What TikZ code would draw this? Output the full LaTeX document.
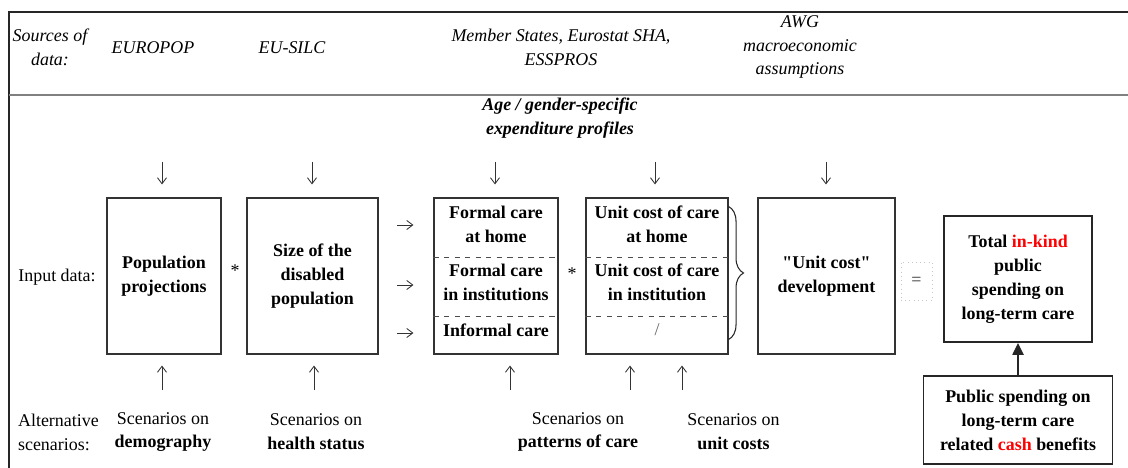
\documentclass[tikz,border=0pt]{standalone}
\usepackage{fontspec}
\setmainfont{Liberation Serif}
\usetikzlibrary{arrows.meta,decorations.pathreplacing}

\begin{document}
\begin{tikzpicture}[
        font=\fontsize{10.2pt}{13.6pt}\selectfont,
        txt/.style={align=center, inner sep=1pt},
        src/.style={txt, font=\fontsize{10.2pt}{13.6pt}\selectfont\itshape},
        inp/.style={txt, font=\fontsize{10.2pt}{13.6pt}\selectfont\bfseries},
        box/.style={draw=black!80, line width=0.6pt, minimum height=3.12cm, inner sep=0pt},
        outbox/.style={inp, draw=black!85, line width=1pt, inner sep=0pt},
        arr/.style={-{Straight Barb[length=1.2mm,width=1.8mm]}, black!80, line width=0.5pt}
    ]
    \useasboundingbox (0,0) rectangle (22.56,-9.36);
    \draw[black!85, line width=0.6pt] (0.18,-9.36) -- (0.18,-0.24) -- (22.56,-0.24);
    \draw[black!50, line width=1pt] (0.18,-1.9) -- (22.56,-1.9);

    % sources of data
    \node[src] (srclbl) at (1.0,-0.94) {Sources of\\data:};
    \node[src] (europop) at (3.06,-0.96) {EUROPOP};
    \node[src] (eusilc) at (5.84,-0.96) {EU-SILC};
    \node[src] (msstates) at (11.22,-0.94) {Member States, Eurostat SHA,\\ESSPROS};
    \node[src] (awg) at (16.0,-0.94) {AWG\\macroeconomic\\assumptions};
    \node[src, font=\fontsize{10.2pt}{13.6pt}\selectfont\bfseries\itshape] (profiles) at (11.2,-2.37)
        {Age / gender-specific\\expenditure profiles};

    % input data
    \node[txt] (inplbl) at (1.14,-5.54) {Input data:};
    \node[box, inp, minimum width=2.28cm] (pop) at (3.28,-5.52) {Population\\projections};
    \node[txt] (star1) at (4.7,-5.42) {*};
    \node[box, inp, minimum width=2.62cm] (size) at (6.25,-5.52) {Size of the\\disabled\\population};
    \node[box, minimum width=2.48cm] (care) at (9.92,-5.52) {};
    \node[txt] (star2) at (11.44,-5.48) {*};
    \node[box, minimum width=2.84cm] (ucost) at (13.14,-5.52) {};
    \node[box, inp, minimum width=2.74cm] (dev) at (16.53,-5.52)
        {\textquotedbl Unit cost\textquotedbl\\development};
    \node[draw=gray!45, dotted, minimum width=0.62cm, minimum height=0.76cm, inner sep=0pt] (eq)
        at (18.33,-5.62) {\textcolor{black!80}{=}};
    \node[outbox, minimum width=2.96cm, minimum height=2.52cm] (total) at (20.36,-5.58)
        {Total \textcolor{red}{in-kind}\\public\\spending on\\long-term care};
    \node[outbox, minimum width=3.78cm, minimum height=1.76cm] (cash) at (20.36,-8.4)
        {Public spending on\\long-term care\\related \textcolor{red}{cash} benefits};

    \foreach \y in {-5.14,-6.32}
        \draw[dashed, black!70] (care.west |- 0,\y) -- (care.east |- 0,\y)
            (ucost.west |- 0,\y) -- (ucost.east |- 0,\y);

    \node[inp] (care1) at (9.92,-4.48) {Formal care\\at home};
    \node[inp] (care2) at (9.92,-5.65) {Formal care\\in institutions};
    \node[inp] (care3) at (9.92,-6.6) {Informal care};
    \node[inp] (cost1) at (13.14,-4.48) {Unit cost of care\\at home};
    \node[inp] (cost2) at (13.14,-5.65) {Unit cost of care\\in institution};
    \node[txt, text=black!60] (cost3) at (13.14,-6.6) {/};

    \draw[decorate, decoration={brace, amplitude=0.3cm}, black!85, line width=0.6pt]
        ([yshift=-0.18cm]ucost.north east) -- ([yshift=0.3cm]ucost.south east);

    % arrows
    \foreach \x/\b [count=\i] in {3.24/pop, 6.24/size, 9.9/care, 13.1/ucost, 16.52/dev} {
        \coordinate (dn\i) at (\x,-3.24);
        \draw[arr, shorten >=0.26cm] (dn\i) -- (dn\i |- \b.north);
    }
    \foreach \x/\b [count=\i] in {3.24/pop, 6.28/size, 10.2/care, 12.6/ucost, 13.64/ucost} {
        \coordinate (up\i) at (\x,-7.8);
        \draw[arr, shorten >=0.22cm] (up\i) -- (up\i |- \b.south);
    }
    \foreach \y [count=\i] in {-4.5,-5.7,-6.66} {
        \coordinate (rt\i) at (7.94,\y);
        \draw[arr, shorten >=0.4cm] (rt\i) -- (rt\i -| care.west);
    }
    \draw[-{Triangle[length=2.4mm,width=2.2mm]}, black!85, line width=1.2pt] (cash) -- (total);

    % alternative scenarios
    \node[txt, anchor=west, align=left] (altlbl) at (0.32,-8.64) {Alternative\\scenarios:};
    \node[txt] (scdemo) at (3.26,-8.64) {Scenarios on\\\textbf{demography}};
    \node[txt] (schealth) at (6.32,-8.64) {Scenarios on\\\textbf{health status}};
    \node[txt] (scpattern) at (11.56,-8.64) {Scenarios on\\\textbf{patterns of care}};
    \node[txt] (sccost) at (14.67,-8.64) {Scenarios on\\\textbf{unit costs}};
\end{tikzpicture}
\end{document}
